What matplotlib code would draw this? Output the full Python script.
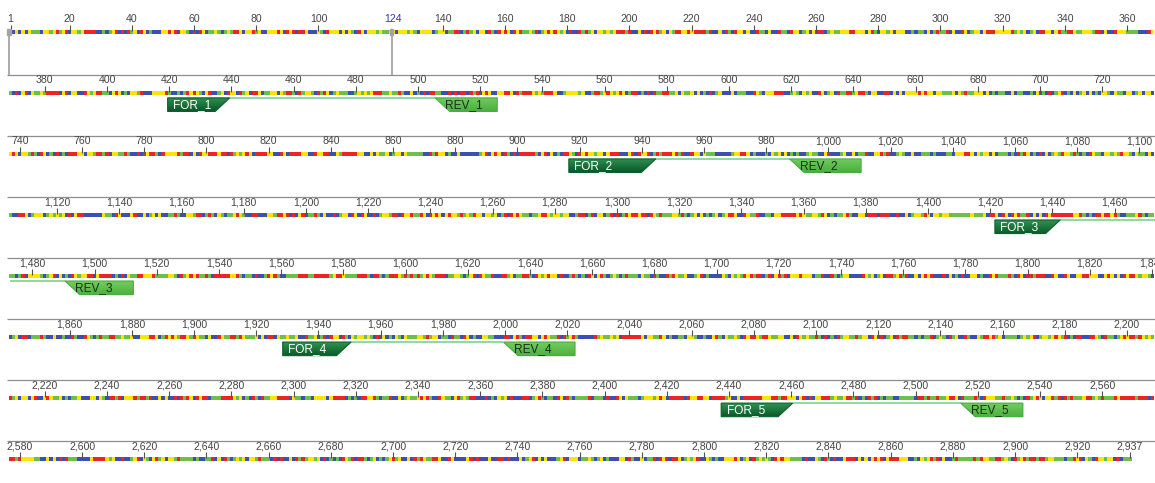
import numpy as np
import matplotlib
matplotlib.use("Agg")
import matplotlib.pyplot as plt
from matplotlib.colors import ListedColormap, LinearSegmentedColormap
from matplotlib.patches import Polygon, Rectangle

# ---- data ----
SEQ_LEN = 2937
ROW_LEN = 368
CURSOR = 124

# base sequence (hand typed, trimmed to the plasmid length)
sequence_parts = [
    "TCGCGCGTTTCGGTGATGACGGTGAAAACCTCTGACACATGCAGCTCCCGGAGACGGTCACAGCTTGTCTGTAAGCGGATGCCGGGAGCAGACAAGCCCGTCAGGGCGCGTCAGCGGGTGTTGGCGGGTGTCGGGGCTGGCTTAACTATGCGGCATCAGAGCAGATTGTACTGAGAGTGCACCATATGCGGTGTGAAATACCGCACAGATGCGTAAGGAGAAAATACCGCATCAGGCGCCATTCGCCATTCAGGCTGCGCAACTGTTGGGAAGGGCGATCGGTGCGGGCCTCTTCGCTATTACGCCAGCTGGCGAAAGGGGGATGTGCTGCAAGGCGATTAAGTTGGGTAACGCCAGGGTTTTCCCAGTCACGACGTTGTAAAACGACGGCCAGTGAATTCGAGCTCGGTACCCGGGGATCCTCTAGAGTCGACCTGCAGGCATGCAAGCTTGGCGTAATCATGGTCATAGCTGTTTCCTGTGTGAAATTGTTATCCGCTCACAATTCCACACAACATACGAGCCGGAAGCATAAAGTGTAAAGCCTGGGGTGCCTAATGAGTGAGCTAACTCACATTAATTGCGTTGCGCTCACTGCCCGCTTTCCAGTCGGGAAACCTGTCGTGCCAGCTGCATTAATGAATCGGCCAACGCGCGGGGAGAGGCGGTTTGCGTATTGGGCGCTCTTCCGCTTCCTCGCTCACTGACTCGCTGCGCTCGGTCGTTCGGCTGCGGCGAGCGGTATCAGCTCACTCAAAGGCGGTAATACGGTTATCCACAGAATCAGGGGATAACGCAGGAAAGAACATGTGAGCAAAAGGCCAGCAAAAGGCCAGGAACCGTAAAAAGGCCGCGTTGCTGGCGTTTTTCCATAGGCTCCGCCCCCCTGACGAGCATCACAAAAATCGACGCTCAAGTCAGAGGTGGCGAAACCCGACAGGACTATAAAGATACCAGGCGTTTCCCCCTGGAAGCTCCCTCGTGCGCTCTCCTGTTCCGACCCTGCCGCTTACCGGATACCTGTCCGCCTTTCTCCCTTCGGGAAGCGTGGCGCTTTCTCATAGCTCACGCTGTAGGTATCTCAGTTCGGTGTAGGTCGTTCGCTCCAAGCTGGGCTGTGTGCACGAACCCCCCGTTCAGCCCGACCGCTGCGCCTTATCCGGTAACTATCGTCTTGAGTCCAACCCGGTAAGACACGACTTATCGCCACTGGCAGCAGCCACTGGTAACAGGATTAGCAGAGCGAGGTATGTAGGCGGTGCTACAGAGTTCTTGAAGTGGTGGCCTAACTACGGCTACACTAGAAGAACAGTATTTGGTATCTGCGCTCTGCTGAAGCCAGTTACCTTCGGAAAAAGAGTTGGTAGCTCTTGATCCGGCAAACAAACCACCGCTGGTAGCGGTGGTTTTTTTGTTTGCAAGCAGCAGATTACGCGCAGAAAAAAAGGATCTCAAGAAGATCCTTTGATCTTTTCTACGGGGTCTGACGCTCAGTGGAACGAAAACTCACGTTAAGGGATTTTGGTCATGAGATTATCAAAAAGGATCTTCACCTAGATCCTTTTAAATTAAAAATGAAGTTTTAAATCAATCTAAAGTATATATGAGTAAACTTGGTCTGACAGTTACCAATGCTTAATCAGTGAGGCACCTATCTCAGCGATCTGTCTATTTCGTTCATCCATAGTTGCCTGACTCCCCGTCGTGTAGATAACTACGATACGGGAGGGCTTACCATCTGGCCCCAGTGCTGCAATGATACCGCGAGACCCACGCTCACCGGCTCCAGATTTATCAGCAATAAACCAGCCAGCCGGAAGGGCCGAGCGCAGAAGTGGTCCTGCAACTTTATCCGCCTCCATCCAGTCTATTAATTGTTGCCGGGAAGCTAGAGTAAGTAGTTCGCCAGTTAATAGTTTGCGCAACGTTGTTGCCATTGCTACAGGCATCGTGGTGTCACGCTCGTCGTTTGGTATGGCTTCATTCAGCTCCGGTTCCCAACGATCAAGGCGAGTTACATGATCCCCCATGTTGTGCAAAAAAGCGGTTAGCTCCTTCGGTCCTCCGATCGTTGTCAGAAGTAAGTTGGCCGCAGTGTTATCACTCATGGTTATGGCAGCACTGCATAATTCTCTTACTGTCATGCCATCCGTAAGATGCTTTTCTGTGACTGGTGAGTACTCAACCAAGTCATTCTGAGAATAGTGTATGCGGCGACCGAGTTGCTCTTGCCCGGCGTCAATACGGGATAATACCGCGCCACATAGCAGAACTTTAAAAGTGCTCATCATTGGAAAACGTTCTTCGGGGCGAAAACTCTCAAGGATCTTACCGCTGTTGAGATCCAGTTCGATGTAACCCACTCGTGCACCCAACTGATCTTCAGCATCTTTTACTTTCACCAGCGTTTCTGGGTGAGCAAAAACAGGAAGGCAAAATGCCGCAAAAAAGGGAATAAGGGCGACACGGAAATGTTGAATACTCATACTCTTCCTTTTTCAATATTATTGAAGCATTTATCAGGGTTATTGTCTCATGAGCGGATACATATTTGAATGTATTTAGAAAAATAAACAAATAGGGGTTCCGCGCACATTTCCCCGAAAAGTGCCACCTGACGTC",
    "GATGCGGTATTTTCTCCTTACGCATCTGTGCGGTATTTCACACCGCATATGGTGCACTCTCAGTACAATCTGCTCTGATGCCGCATAGTTAAGCCAGCCCCGACACCCGCCAACACCCGCTGACGCGCCCTGACGGGCTTGTCTGCTCCCGGCATCCGCTTACAGACAAGCTGTGACCGTCTCCGGGAGCTGCATGTGTCAGAGGTTTTCACCGTCATCACCGAAACGCGCGAGACGAAAGGGCCTCGTGATACGCCTATTTTTATAGGTTAATGTCATGATAATAATGGTTTCTTAGACGTCAGGTGGCACTTTTCGGGGAAATGTGCGCGGAACCCCTATTTGTTTATTTTTCTAAATACATTCAAATATGTATCCGCTCATGAGACAATAACCCTGATAAATGCTTCAATAATATTGAAAAAGGAAGAGTATGAGTATTCAACATTTCCGTGTCGCCCTTATTCCC",
]
sequence = "".join(sequence_parts)[:SEQ_LEN]

base_letters = ["A", "C", "G", "T"]
base_colors = ["#ee2424", "#3c50b4", "#ffe400", "#6cbf48"]

pair_labels = ["1", "2", "3", "4", "5"]
for_start = [420, 917, 1422, 1929, 2438]
for_end = [439, 944, 1442, 1950, 2460]
rev_start = [506, 988, 1491, 2000, 2515]
rev_end = [525, 1010, 1512, 2022, 2534]

# ---- layout ----
W, H = 1155, 483
PPB = 3.11          # pixels per base
X0 = 9              # left pixel of the first base
ROW_TOP = 32        # centre of first sequence bar
ROW_STEP = 61.05
fonts = ["Liberation Sans Narrow", "Liberation Sans", "DejaVu Sans"]

fig = plt.figure(figsize=(W / 100, H / 100), dpi=100)
ax = fig.add_axes([0, 0, 1, 1])
ax.axis("off")

base_cmap = ListedColormap(base_colors)
for_cmap = LinearSegmentedColormap.from_list("for", ["#2f9150", "#0a5a2a"])
rev_cmap = LinearSegmentedColormap.from_list("rev", ["#72cc5e", "#4cb040"])
n_rows = (SEQ_LEN + ROW_LEN - 1) // ROW_LEN


def row_y(r):
    return ROW_TOP + r * ROW_STEP


def locate(p):
    return (p - 1) // ROW_LEN, (p - 1) % ROW_LEN


for r in range(n_rows):
    y = row_y(r)
    start = r * ROW_LEN + 1
    stop = min(start + ROW_LEN - 1, SEQ_LEN)
    n = stop - start + 1
    codes = np.array([base_letters.index(c) for c in sequence[start - 1:stop]])
    ax.imshow(codes[None, :], cmap=base_cmap, vmin=0, vmax=3, aspect="auto",
              interpolation="nearest", extent=(0, n, y + 2, y - 2), zorder=2)
    if r > 0:
        ax.hlines(y - 18.3, -0.6, 372, color="#8e8e8e", lw=0.9, zorder=1)

    ticks = [p for p in range(start, stop + 1) if p % 20 == 0 and p != 120]
    if r == 0:
        ticks = [1] + ticks
    if stop == SEQ_LEN:
        ticks.append(SEQ_LEN)
    for p in ticks:
        xi = p - start + 0.5
        ax.vlines(xi, y - 7, y - 1, color="#505050", lw=0.8, zorder=3)
        ax.text(xi, y - 12.8, f"{p:,}", ha="center", va="center", fontsize=7.6,
                color="#454545", family=fonts)

# selection / cursor
y = row_y(0)
for xc in [0, CURSOR - 1]:
    ax.vlines(xc, y - 3, row_y(1) - 18.3, color="#a4a4a4", lw=1.3, zorder=4)
    ax.add_patch(Rectangle((xc - 0.6, y - 3), 1.2, 6, color="#a4a4a4", zorder=4))
ax.text(CURSOR - 0.5, y - 12.8, f"{CURSOR}", ha="center", va="center",
        fontsize=7.6, color="#2b3fa8", family=fonts)

# primers
CUT = 4.7   # bases of the slanted end


def primer(p0, p1, kind, label):
    r, i0 = locate(p0)
    i1 = i0 + (p1 - p0 + 1)
    y = row_y(r)
    top, bot = y + 4.8, y + 18.4
    if kind == "for":
        pts = [(i0, top), (i1, top), (i1 - CUT, bot), (i0, bot)]
        cmap, edge, tcol, tx = for_cmap, "#0d5f2e", "white", i0 + 1.8
    else:
        pts = [(i0, top), (i1, top), (i1, bot), (i0 + CUT, bot)]
        cmap, edge, tcol, tx = rev_cmap, "#49ad46", "#1b2e1b", i0 + 3.3
    poly = Polygon(pts, closed=True, facecolor="none", edgecolor=edge, lw=0.8, zorder=6)
    ax.add_patch(poly)
    grad = ax.imshow(np.linspace(0, 1, 20)[:, None], cmap=cmap, aspect="auto",
                     extent=(i0, i1, bot, top), zorder=5)
    grad.set_clip_path(poly)
    ax.text(tx, (top + bot) / 2 + 0.3, label, ha="left", va="center", fontsize=8.6,
            color=tcol, family=fonts, zorder=7)


for k, lab in enumerate(pair_labels):
    # connector between forward and reverse primer
    ra, ia = locate(for_end[k])
    rb, ib = locate(rev_start[k])
    if ra == rb:
        ax.hlines(row_y(ra) + 5.2, ia + 1, ib, color="#86d896", lw=1.3, zorder=4)
    else:
        ax.hlines(row_y(ra) + 5.2, ia + 1, 372, color="#86d896", lw=1.3, zorder=4)
        ax.hlines(row_y(rb) + 5.2, 0.3, ib, color="#86d896", lw=1.3, zorder=4)
    primer(for_start[k], for_end[k], "for", "FOR_" + lab)
    primer(rev_start[k], rev_end[k], "rev", "REV_" + lab)

ax.set_xlim(-X0 / PPB, (W - X0) / PPB)
ax.set_ylim(H, 0)
fig.savefig("out.png", dpi=100)
